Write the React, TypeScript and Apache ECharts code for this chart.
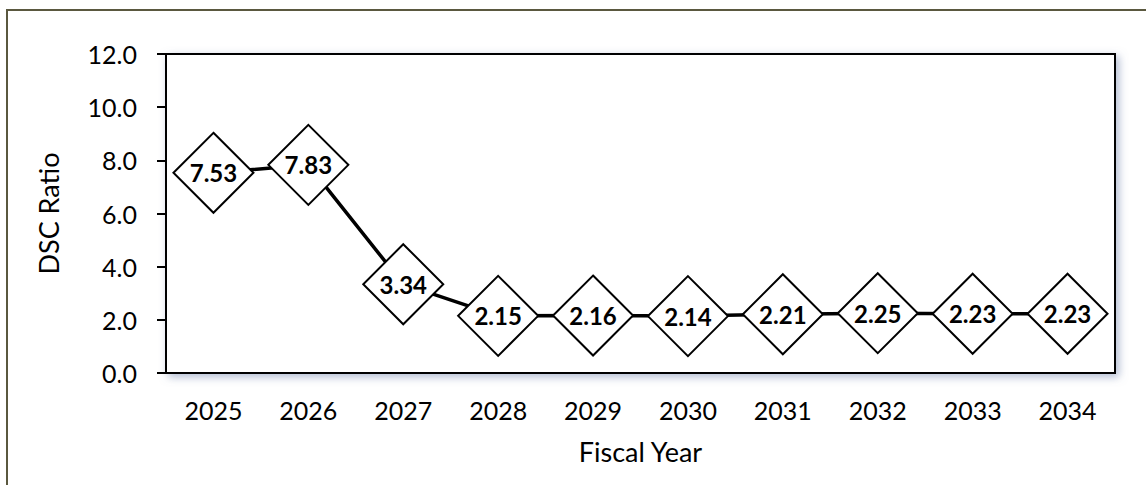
import React, { useEffect, useRef } from "react";
import * as echarts from "echarts";

const categories = ["2025", "2026", "2027", "2028", "2029", "2030", "2031", "2032", "2033", "2034"];
const dscRatio = [7.53, 7.83, 3.34, 2.15, 2.16, 2.14, 2.21, 2.25, 2.23, 2.23];
const yMin = 0;
const yMax = 12;
const yStep = 2;

export default function App() {
  const ref = useRef<HTMLDivElement>(null);
  useEffect(() => {
    if (!ref.current) return;
    const chart = echarts.init(ref.current, undefined, { renderer: "svg" });
    const font = "Lato, 'Open Sans', sans-serif";
    chart.setOption({
      animation: false,
      backgroundColor: "#ffffff",
      textStyle: { fontFamily: font },
      graphic: [
        {
          type: "rect",
          shape: { x: 7, y: 10, width: 1300, height: 700 },
          style: { fill: "none", stroke: "#5a583f", lineWidth: 2 },
          silent: true,
          z: -10,
        },
      ],
      grid: {
        left: 166,
        right: 31,
        top: 54,
        bottom: 112,
        show: true,
        backgroundColor: "#ffffff",
        borderColor: "#000000",
        borderWidth: 2,
        shadowBlur: 8,
        shadowColor: "rgba(110,130,170,0.55)",
        shadowOffsetX: 3,
        shadowOffsetY: 3,
      },
      xAxis: {
        type: "category",
        data: categories,
        boundaryGap: true,
        name: "Fiscal Year",
        nameLocation: "middle",
        nameGap: 65,
        nameTextStyle: { fontSize: 27, color: "#000", fontFamily: font },
        axisLine: { lineStyle: { color: "#000", width: 2 } },
        axisTick: { alignWithLabel: true, length: 8, lineStyle: { color: "#000", width: 2 } },
        axisLabel: { fontSize: 25, color: "#000", margin: 24, fontFamily: font },
        splitLine: { show: false },
      },
      yAxis: {
        type: "value",
        min: yMin,
        max: yMax,
        interval: yStep,
        name: "DSC Ratio",
        nameLocation: "middle",
        nameRotate: 90,
        nameGap: 104,
        nameTextStyle: { fontSize: 27, color: "#000", fontFamily: font },
        axisLine: { show: true, lineStyle: { color: "#000", width: 2 } },
        axisTick: { show: true, length: 9, lineStyle: { color: "#000", width: 2 } },
        axisLabel: {
          fontSize: 25,
          color: "#000",
          margin: 29,
          fontFamily: font,
          formatter: (v: number) => v.toFixed(1),
        },
        splitLine: { show: false },
      },
      series: [
        {
          type: "line",
          data: dscRatio,
          symbol: "diamond",
          symbolSize: [80, 80],
          lineStyle: { color: "#000", width: 3.5 },
          itemStyle: { color: "#ffffff", borderColor: "#000", borderWidth: 2 },
          label: {
            show: true,
            position: "inside",
            fontSize: 24,
            fontWeight: "bold",
            color: "#000",
            fontFamily: font,
            formatter: (p: any) => Number(p.value).toFixed(2),
          },
        },
      ],
    });
    return () => chart.dispose();
  }, []);
  return (
    <div
      ref={ref}
      style={{ position: "fixed", left: 0, top: 0, width: 1146, height: 485 }}
    />
  );
}
